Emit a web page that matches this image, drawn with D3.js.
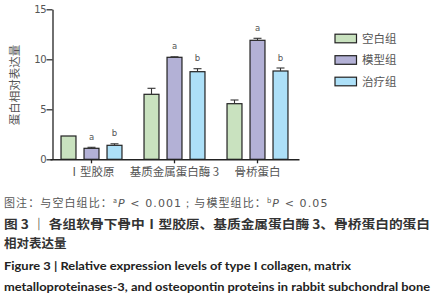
<!DOCTYPE html>
<html>
<head>
<meta charset="utf-8">
<script src="https://cdn.jsdelivr.net/npm/d3@7"></script>
<style>
  body { margin: 0; background: #fff; }
  svg { display: block; }
</style>
</head>
<body>
<div id="chart"></div>
<script>
// data
const groups = ["Ⅰ型胶原", "基质金属蛋白酶 3", "骨桥蛋白"];
const series = ["空白组", "模型组", "治疗组"];
const blankVals = [2.33, 6.5, 5.56];
const modelVals = [1.1, 10.2, 11.9];
const treatVals = [1.4, 8.76, 8.83];
const blankErr = [0.0, 0.6, 0.37];
const modelErr = [0.1, 0.05, 0.2];
const treatErr = [0.15, 0.3, 0.3];
const modelMarks = ["a", "a", "a"];
const treatMarks = ["b", "b", "b"];
const yTicks = [0, 5, 10, 15];
const colors = ["#c9e2bf", "#b3b1d6", "#ade0f8"];

const width = 438, height = 300;
const cjk = "'Noto Sans CJK SC', 'Noto Sans', sans-serif";

const svg = d3.select("#chart")
  .append("svg")
  .attr("width", width)
  .attr("height", height);

// scales
const y = d3.scaleLinear().domain([0, 15]).range([159.3, 9.3]);
const x0 = d3.scaleBand().domain(groups).range([50, 299]).padding(0);
const x1 = d3.scaleBand().domain(series).range([-34.5, 34.5])
  .paddingInner(0.35).paddingOuter(0.175);
const color = d3.scaleOrdinal().domain(series).range(colors);

// flatten into rows
const vals = [blankVals, modelVals, treatVals];
const errs = [blankErr, modelErr, treatErr];
const marks = [null, modelMarks, treatMarks];
const rows = [];
groups.forEach(function(g, i) {
  series.forEach(function(s, j) {
    rows.push({ group: g, series: s, value: vals[j][i], err: errs[j][i],
      mark: marks[j] ? marks[j][i] : "" });
  });
});
const cx = function(d) { return x0(d.group) + x0.bandwidth() / 2 + x1(d.series); };

// Y axis
const yAxis = svg.append("g")
  .attr("transform", "translate(52.5,0)")
  .call(d3.axisLeft(y).tickValues(yTicks).tickSize(6).tickSizeOuter(0));
yAxis.select(".domain").attr("stroke", "#222").attr("stroke-width", 1.3);
yAxis.selectAll(".tick line").attr("stroke", "#222").attr("stroke-width", 1.2);
yAxis.selectAll("text")
  .attr("x", -6.5)
  .attr("fill", "#555")
  .style("font-family", "'DejaVu Sans', sans-serif")
  .style("font-size", "10px")
  .style("letter-spacing", "-0.5px");

// bars
svg.append("g")
  .selectAll("rect")
  .data(rows)
  .enter()
  .append("rect")
    .attr("x", function(d) { return cx(d); })
    .attr("y", function(d) { return y(d.value); })
    .attr("width", x1.bandwidth())
    .attr("height", function(d) { return y(0) - y(d.value); })
    .attr("fill", function(d) { return color(d.series); })
    .attr("stroke", "#222")
    .attr("stroke-width", 1.2);

// error bars (upper only)
const eb = svg.append("g").selectAll("g")
  .data(rows.filter(function(d) { return d.err > 0; }))
  .enter().append("g")
  .attr("stroke", "#333")
  .attr("stroke-width", 1.1);
eb.append("line")
  .attr("x1", function(d) { return cx(d) + x1.bandwidth() / 2; })
  .attr("x2", function(d) { return cx(d) + x1.bandwidth() / 2; })
  .attr("y1", function(d) { return y(d.value); })
  .attr("y2", function(d) { return y(d.value + d.err); });
eb.append("line")
  .attr("x1", function(d) { return cx(d) + x1.bandwidth() / 2 - 4; })
  .attr("x2", function(d) { return cx(d) + x1.bandwidth() / 2 + 4; })
  .attr("y1", function(d) { return y(d.value + d.err); })
  .attr("y2", function(d) { return y(d.value + d.err); });

// significance letters
svg.append("g")
  .selectAll("text")
  .data(rows.filter(function(d) { return d.mark; }))
  .enter().append("text")
    .attr("x", function(d) { return cx(d) + x1.bandwidth() / 2; })
    .attr("y", function(d) { return y(d.value + d.err) - 7.5; })
    .attr("text-anchor", "middle")
    .attr("fill", "#555")
    .style("font-family", "'DejaVu Sans', sans-serif")
    .style("font-size", "8.5px")
    .text(function(d) { return d.mark; });

// X axis
const xAxis = svg.append("g")
  .attr("transform", "translate(0," + y(0) + ")")
  .call(d3.axisBottom(x0).tickSize(4).tickSizeOuter(0));
xAxis.select(".domain").attr("stroke", "#222").attr("stroke-width", 1.6);
xAxis.selectAll(".tick line").attr("stroke", "#222").attr("stroke-width", 1.3);
xAxis.selectAll("text")
  .attr("y", 9)
  .attr("fill", "#555")
  .style("font-family", cjk)
  .style("font-size", "11.5px");

// Y axis label
svg.append("text")
  .attr("transform", "translate(19,85) rotate(-90)")
  .attr("text-anchor", "middle")
  .attr("fill", "#555")
  .style("font-family", cjk)
  .style("font-size", "11.5px")
  .text("蛋白相对表达量");

// legend
const legend = svg.append("g").selectAll("g")
  .data(series)
  .enter().append("g")
  .attr("transform", function(d, i) { return "translate(335," + (38.5 + i * 21.5) + ")"; });
legend.append("rect")
  .attr("x", 0).attr("y", -4.3)
  .attr("width", 21.5).attr("height", 8.6)
  .attr("fill", function(d) { return color(d); })
  .attr("stroke", "#222")
  .attr("stroke-width", 1.2);
legend.append("text")
  .attr("x", 27).attr("y", 4.2)
  .attr("fill", "#555")
  .style("font-family", cjk)
  .style("font-size", "11.5px")
  .text(function(d) { return d; });

// captions
const note = svg.append("text")
  .attr("x", 4).attr("y", 207)
  .attr("fill", "#555")
  .style("font-family", cjk)
  .style("font-size", "11px")
  .style("letter-spacing", "1.1px");
note.append("tspan").text("图注：与空白组比：");
note.append("tspan").attr("dy", -4).style("font-size", "7px").text("a");
note.append("tspan").attr("dy", 4).style("font-style", "italic").style("font-family", "'DejaVu Sans', sans-serif").text("P");
note.append("tspan").style("font-family", "'DejaVu Sans', sans-serif").text(" < 0.001；");
note.append("tspan").text("与模型组比：");
note.append("tspan").attr("dy", -4).style("font-size", "7px").text("b");
note.append("tspan").attr("dy", 4).style("font-style", "italic").style("font-family", "'DejaVu Sans', sans-serif").text("P");
note.append("tspan").style("font-family", "'DejaVu Sans', sans-serif").text("  < 0.05");

svg.append("text")
  .attr("x", 4).attr("y", 228.5)
  .attr("fill", "#333")
  .attr("textLength", 426).attr("lengthAdjust", "spacingAndGlyphs")
  .style("font-family", cjk)
  .style("font-size", "12.5px")
  .style("font-weight", "bold")
  .text("图 3 ｜  各组软骨下骨中Ⅰ型胶原、基质金属蛋白酶 3、骨桥蛋白的蛋白");
svg.append("text")
  .attr("x", 4).attr("y", 248)
  .attr("fill", "#333")
  .style("font-family", cjk)
  .style("font-size", "12.5px")
  .style("font-weight", "bold")
  .text("相对表达量");
svg.append("text")
  .attr("x", 4).attr("y", 270)
  .attr("fill", "#222")
  .attr("textLength", 347).attr("lengthAdjust", "spacingAndGlyphs")
  .style("font-family", "Lato, sans-serif")
  .style("font-size", "11.5px")
  .style("font-weight", "bold")
  .text("Figure 3  |  Relative expression levels of type I collagen, matrix");
svg.append("text")
  .attr("x", 4).attr("y", 290.5)
  .attr("fill", "#222")
  .attr("textLength", 426).attr("lengthAdjust", "spacingAndGlyphs")
  .style("font-family", "Lato, sans-serif")
  .style("font-size", "11.5px")
  .style("font-weight", "bold")
  .text("metalloproteinases-3, and osteopontin proteins in rabbit subchondral bone");
</script>
</body>
</html>
